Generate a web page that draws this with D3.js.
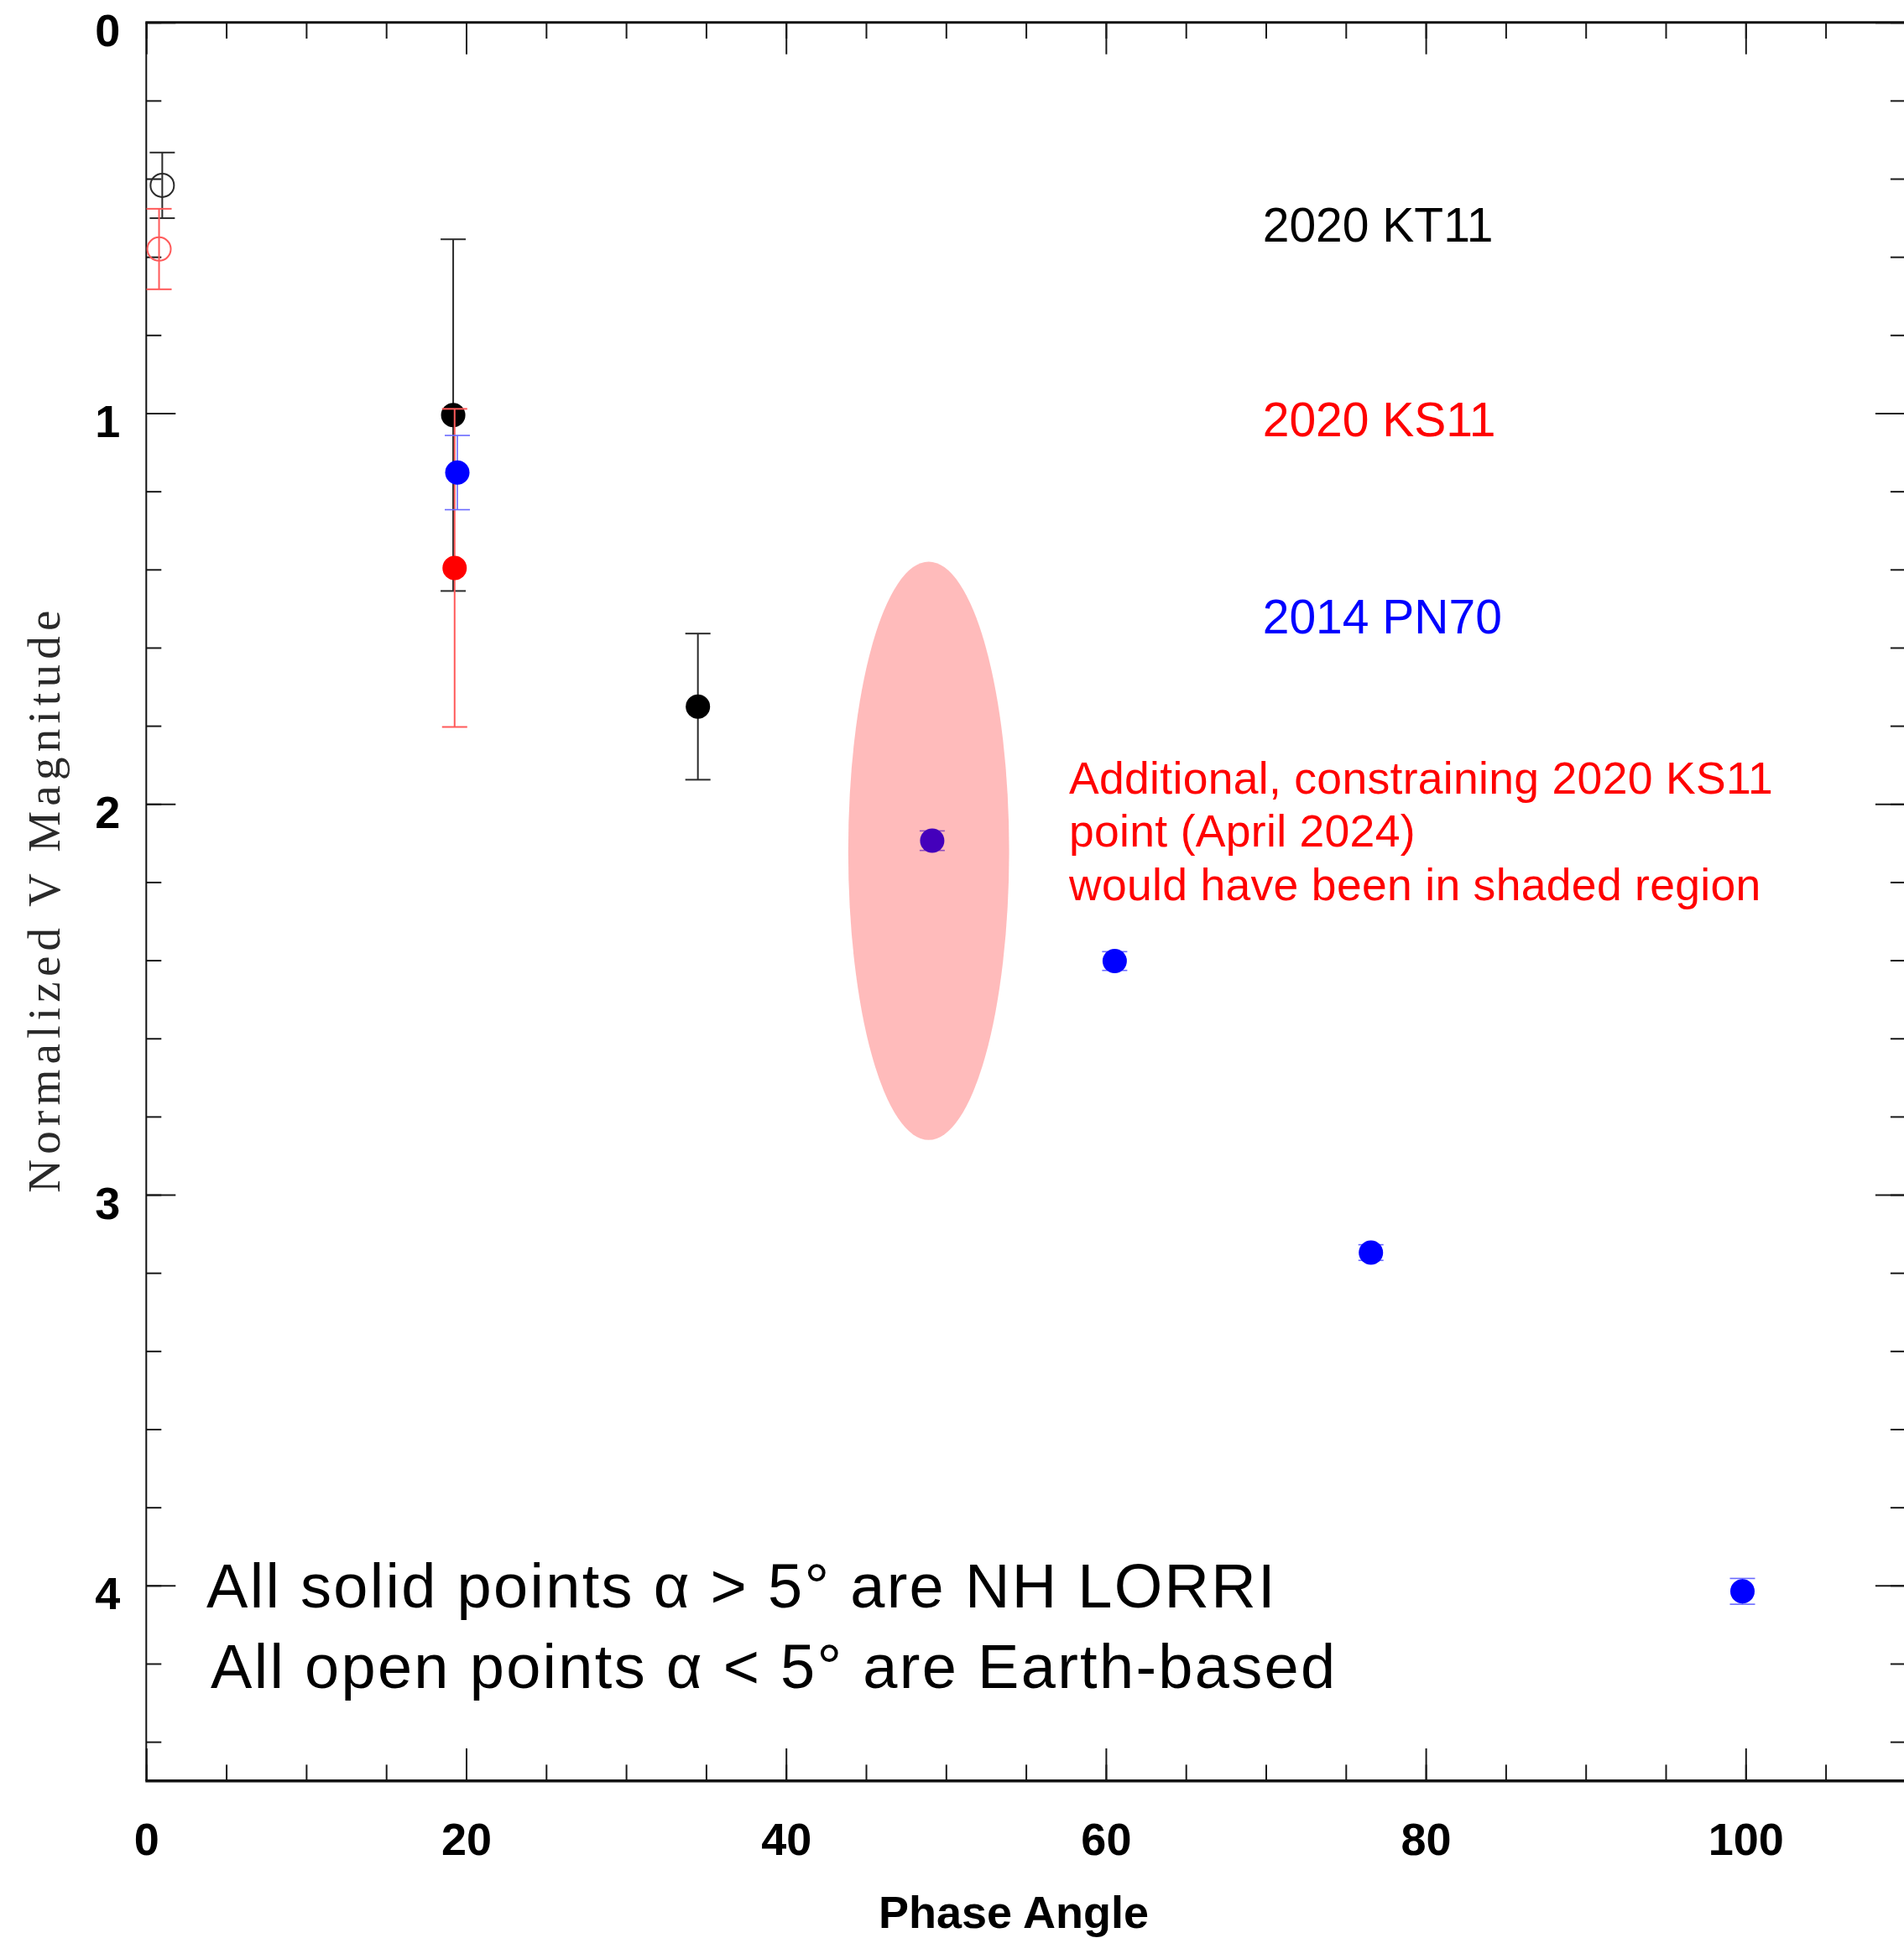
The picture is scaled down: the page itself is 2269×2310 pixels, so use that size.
<!DOCTYPE html>
<html>
<head>
<meta charset="utf-8">
<script src="https://cdn.jsdelivr.net/npm/d3@7"></script>
<style>
  html, body { margin: 0; padding: 0; background: #fff; }
  svg { display: block; }
</style>
</head>
<body>
<svg id="chart" width="2269" height="2310"></svg>
<script>
// ---- data -------------------------------------------------------------
// 2020 KT11 (black)
const kt11Phase = [1.0, 19.19, 34.49];
const kt11Mag   = [0.417, 1.005, 1.751];
const kt11Err   = [0.084, 0.45, 0.187];
const kt11Open  = [true, false, false];

// 2020 KS11 (red)
const ks11Phase = [0.8, 19.28];
const ks11Mag   = [0.580, 1.396];
const ks11Err   = [0.103, 0.407];
const ks11Open  = [true, false];

// 2014 PN70 (blue)
const pn70Phase = [19.45, 49.14, 60.55, 76.57, 99.8];
const pn70Mag   = [1.152, 2.094, 2.402, 3.148, 4.015];
const pn70Err   = [0.095, 0.025, 0.024, 0.02, 0.033];
const pn70Open  = [false, false, false, false, false];

// shaded region for the April 2024 2020 KS11 point: centre and half-widths
const regionPhase = 48.92, regionPhaseHalf = 5.03;
const regionMag = 2.12, regionMagHalf = 0.74;

const xMajorTicks = [0, 20, 40, 60, 80, 100];
const xMinorTicks = d3.range(0, 111, 5);
const yMajorTicks = [0, 1, 2, 3, 4];
const yMinorTicks = d3.range(0, 4.5, 0.2).map(v => +v.toFixed(1));

const legendNames  = ["2020 KT11", "2020 KS11", "2014 PN70"];
const legendColors = ["#000000", "#ff0000", "#0000ff"];
const legendMags   = [0.562, 1.06, 1.563];

const noteLines = [
  "Additional, constraining 2020 KS11",
  "point (April 2024)",
  "would have been in shaded region"
];
const footLines = [
  "All solid points \u03b1 > 5\u00b0 are NH LORRI",
  "All open points \u03b1 < 5\u00b0 are Earth-based"
];

// ---- layout ---------------------------------------------------------------
const svg = d3.select("#chart");
const x = d3.scaleLinear().domain([0, 110]).range([174.3, 2270.9]);
const y = d3.scaleLinear().domain([0, 4.5]).range([26.7, 2122.7]);

const sans = "'Liberation Sans', Arial, Helvetica, sans-serif";

// shared axis styling
function styleAxis(g, width) {
  g.select(".domain").remove();
  g.selectAll(".tick line").attr("stroke", "#1a1a1a").attr("stroke-width", width);
  g.selectAll(".tick text")
    .attr("font-family", sans)
    .attr("font-weight", "bold")
    .attr("font-size", 54)
    .attr("fill", "#000");
}

// bottom axis: labelled majors + minors
svg.append("g").attr("transform", `translate(0,${y.range()[1]})`)
  .call(d3.axisBottom(x).tickValues(xMinorTicks).tickSize(-19.3).tickFormat(""))
  .call(g => styleAxis(g, 2));
const gxb = svg.append("g").attr("transform", `translate(0,${y.range()[1]})`)
  .call(d3.axisBottom(x).tickValues(xMajorTicks).tickSize(-38.7).tickPadding(0).tickFormat(d3.format("d")))
  .call(g => styleAxis(g, 2));
gxb.selectAll(".tick text").attr("dy", null).attr("y", 88);

// top axis
svg.append("g").attr("transform", `translate(0,${y.range()[0]})`)
  .call(d3.axisTop(x).tickValues(xMinorTicks).tickSize(-19.3).tickFormat(""))
  .call(g => styleAxis(g, 2));
svg.append("g").attr("transform", `translate(0,${y.range()[0]})`)
  .call(d3.axisTop(x).tickValues(xMajorTicks).tickSize(-38).tickFormat(""))
  .call(g => styleAxis(g, 2));

// left axis
svg.append("g").attr("transform", `translate(${x.range()[0]},0)`)
  .call(d3.axisLeft(y).tickValues(yMinorTicks).tickSize(-18).tickFormat(""))
  .call(g => styleAxis(g, 2));
const gyl = svg.append("g").attr("transform", `translate(${x.range()[0]},0)`)
  .call(d3.axisLeft(y).tickValues(yMajorTicks).tickSize(-35).tickPadding(0).tickFormat(d3.format("d")))
  .call(g => styleAxis(g, 2));
gyl.selectAll(".tick text").attr("dy", null).attr("x", -31).attr("y", 28);

// right axis
svg.append("g").attr("transform", `translate(${x.range()[1]},0)`)
  .call(d3.axisRight(y).tickValues(yMinorTicks).tickSize(-18).tickFormat(""))
  .call(g => styleAxis(g, 2));
svg.append("g").attr("transform", `translate(${x.range()[1]},0)`)
  .call(d3.axisRight(y).tickValues(yMajorTicks).tickSize(-36).tickFormat(""))
  .call(g => styleAxis(g, 2));

// plot frame
const [x0, x1] = x.range(), [y0, y1] = y.range();
const frame = svg.append("g").attr("stroke", "#111").attr("fill", "none");
frame.append("line").attr("x1", x0 - 1).attr("x2", x1 + 1).attr("y1", y0).attr("y2", y0).attr("stroke-width", 3);
frame.append("line").attr("x1", x0 - 1).attr("x2", x1 + 1).attr("y1", y1).attr("y2", y1).attr("stroke-width", 3.5);
frame.append("line").attr("x1", x0).attr("x2", x0).attr("y1", y0).attr("y2", y1).attr("stroke-width", 2);
frame.append("line").attr("x1", x1).attr("x2", x1).attr("y1", y0).attr("y2", y1).attr("stroke-width", 2);

// axis titles
svg.append("text")
  .attr("x", 1208).attr("y", 2298)
  .attr("text-anchor", "middle")
  .attr("font-family", sans).attr("font-weight", "bold").attr("font-size", 54)
  .text("Phase Angle");

svg.append("text")
  .attr("transform", `translate(71,${(y0 + y1) / 2}) rotate(-90)`)
  .attr("text-anchor", "middle")
  .attr("font-family", "'Liberation Serif', 'Times New Roman', serif")
  .attr("font-size", 55)
  .attr("fill", "#2a2a2a")
  .attr("textLength", 694).attr("lengthAdjust", "spacing")
  .text("Normalized V Magnitude");

// ---- data marks ----------------------------------------------------------
function series(phase, mag, err, open, color, barColor, barWidth) {
  const rows = phase.map((p, i) => ({ p, m: mag[i], e: err[i], open: open[i] }));
  const g = svg.append("g");
  const cap = 15;
  const bars = g.append("g").attr("stroke", barColor).attr("stroke-width", barWidth).attr("fill", "none");
  rows.forEach(r => {
    const cx = x(r.p);
    bars.append("line").attr("x1", cx).attr("x2", cx).attr("y1", y(r.m - r.e)).attr("y2", y(r.m + r.e));
    bars.append("line").attr("x1", cx - cap).attr("x2", cx + cap).attr("y1", y(r.m - r.e)).attr("y2", y(r.m - r.e));
    bars.append("line").attr("x1", cx - cap).attr("x2", cx + cap).attr("y1", y(r.m + r.e)).attr("y2", y(r.m + r.e));
  });
  g.selectAll("circle").data(rows).join("circle")
    .attr("cx", d => x(d.p)).attr("cy", d => y(d.m))
    .attr("r", d => d.open ? 14 : 14.5)
    .attr("fill", d => d.open ? "none" : color)
    .attr("stroke", d => d.open ? barColor : "none")
    .attr("stroke-width", 2);
}

series(kt11Phase, kt11Mag, kt11Err, kt11Open, "#000000", "#2b2b2b", 2);
series(ks11Phase, ks11Mag, ks11Err, ks11Open, "#ff0000", "#ff5a5a", 2);
series(pn70Phase, pn70Mag, pn70Err, pn70Open, "#0000ff", "#6a6aff", 1.6);

// shaded region (translucent, over the points)
svg.append("ellipse")
  .attr("cx", x(regionPhase)).attr("cy", y(regionMag))
  .attr("rx", x(regionPhase + regionPhaseHalf) - x(regionPhase))
  .attr("ry", y(regionMag + regionMagHalf) - y(regionMag))
  .attr("fill", "#ff0000").attr("fill-opacity", 0.267);

// ---- labels -------------------------------------------------------------
svg.append("g").selectAll("text").data(legendNames).join("text")
  .attr("x", x(69.8)).attr("y", (d, i) => y(legendMags[i]))
  .attr("font-family", sans).attr("font-size", 57)
  .attr("fill", (d, i) => legendColors[i])
  .text(d => d);

svg.append("g").selectAll("text").data(noteLines).join("text")
  .attr("x", 1274).attr("y", (d, i) => 945.7 + i * 63.5)
  .attr("font-family", sans).attr("font-size", 53.5)
  .attr("letter-spacing", 0.3)
  .attr("fill", "#ff0000")
  .text(d => d);

svg.append("g").selectAll("text").data(footLines).join("text")
  .attr("x", (d, i) => i === 0 ? 246 : 251).attr("y", (d, i) => 1916 + i * 95.7)
  .attr("font-family", sans).attr("font-size", 74)
  .attr("letter-spacing", 2.3)
  .attr("fill", "#000")
  .text(d => d);
</script>
</body>
</html>
